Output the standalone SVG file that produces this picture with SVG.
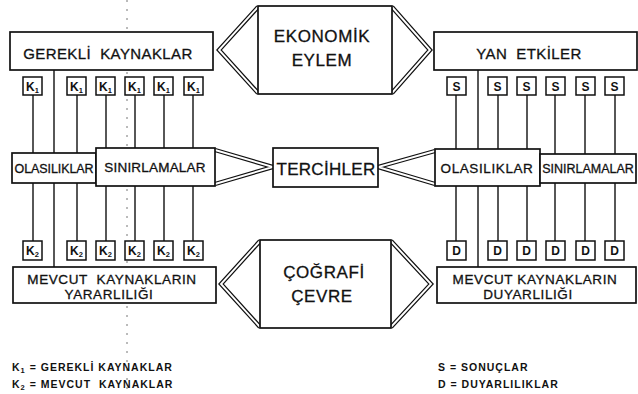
<svg xmlns="http://www.w3.org/2000/svg" width="638" height="394" viewBox="0 0 638 394">
<style>
.box{fill:#fff;stroke:#111;stroke-width:1.7}
.sm{fill:#fff;stroke:#111;stroke-width:1.5}
.ln{stroke:#111;stroke-width:1.4;fill:none}
.wo{fill:none;stroke:#111;stroke-width:4.4;stroke-linejoin:miter}
.wi{fill:none;stroke:#fff;stroke-width:1.9;stroke-linejoin:miter}
text{font-family:"Liberation Sans",Arial,sans-serif;fill:#111;stroke:#111;stroke-width:0.3}
.big{font-size:15px;letter-spacing:0.4px;text-anchor:middle}
.bot{font-size:13.5px;letter-spacing:0.6px;text-anchor:middle}
.ctr{font-size:17px;letter-spacing:0.6px;text-anchor:middle}
.mid{text-anchor:middle}
.k{font-size:12px;font-weight:bold;text-anchor:middle;stroke-width:0}
.sub{font-size:7.5px}
.leg{font-size:10.5px;font-weight:bold;letter-spacing:1px;stroke-width:0}
.art{stroke:#777;stroke-width:1;stroke-dasharray:2 7;fill:none}
</style>
<rect width="638" height="394" fill="#fff"/>
<line class="art" x1="127" y1="0" x2="127" y2="394"/>
<g id="connectors">
<path class="ln" d="M33,95V153M77,95V153M106,95V148M135,95V148M164,95V148M193,95V148M54,70V267"/>
<path class="ln" d="M33,183V241M77,183V241M106,186V241M135,186V241M164,186V241M193,186V241"/>
<path class="ln" d="M456,95V149M498,95V149M527,95V149M555,95V154M585,95V154M615,95V154M478,70V267"/>
<path class="ln" d="M456,186V241M498,186V241M527,186V241M555,183V241M585,183V241M615,183V241"/>
<g id="wings">
<path class="wo" d="M258,7L219,50L258,93"/><path class="wi" d="M258,7L219,50L258,93"/>
<path class="wo" d="M392,7L430,50L392,93"/><path class="wi" d="M392,7L430,50L392,93"/>
<path class="wo" d="M260,241L221,284L260,327"/><path class="wi" d="M260,241L221,284L260,327"/>
<path class="wo" d="M391,241L431,284L391,327"/><path class="wi" d="M391,241L431,284L391,327"/>
<path class="wo" d="M215,150L273,167L215,184"/><path class="wi" d="M215,150L273,167L215,184"/>
<path class="wo" d="M435,151L378,167L435,184"/><path class="wi" d="M435,151L378,167L435,184"/>
</g>
</g>
<g id="ekonomik-eylem">
<rect class="box" x="258" y="6" width="134" height="88"/>
<text class="ctr" x="322" y="42">EKONOMİK</text>
<text class="ctr" x="322" y="66">EYLEM</text>
</g>
<g id="cografi-cevre">
<rect class="box" x="260" y="240" width="131" height="88"/>
<text class="ctr" x="324" y="278">ÇOĞRAFİ</text>
<text class="ctr" x="322" y="302">ÇEVRE</text>
</g>
<g id="tercihler">
<rect class="box" x="273" y="148" width="105" height="39"/>
<text class="mid" x="326" y="174.5" style="font-size:17px;letter-spacing:0.3px">TERCİHLER</text>
</g>
<g id="gerekli-kaynaklar">
<rect class="box" x="10" y="32" width="203" height="38"/>
<text class="big" x="108" y="58.5">GEREKLİ&#160; KAYNAKLAR</text>
</g>
<g id="yan-etkiler">
<rect class="box" x="434" y="32" width="203" height="38"/>
<text class="big" x="529" y="58.5">YAN&#160; ETKİLER</text>
</g>
<g id="mevcut-yararliligi">
<rect class="box" x="13" y="267" width="203" height="36"/>
<text class="bot" x="112" y="284">MEVCUT&#160; KAYNAKLARIN</text>
<text class="bot" x="109" y="299">YARARLILIĞI</text>
</g>
<g id="mevcut-duyarliligi">
<rect class="box" x="437" y="267" width="199" height="36"/>
<text class="bot" x="535" y="284">MEVCUT KAYNAKLARIN</text>
<text class="bot" x="528" y="299">DUYARLILIĞI</text>
</g>
<g id="olasiliklar-left">
<rect class="box" x="12" y="153" width="84" height="30"/>
<text class="mid" x="54" y="172.5" style="font-size:12.5px;letter-spacing:-0.1px">OLASILIKLAR</text>
</g>
<g id="sinirlamalar-left">
<rect class="box" x="96" y="148" width="119" height="38"/>
<text class="mid" x="155" y="172" style="font-size:13.5px;letter-spacing:0.2px">SINIRLAMALAR</text>
</g>
<g id="olasiliklar-right">
<rect class="box" x="435" y="149" width="105" height="37"/>
<text class="mid" x="487" y="172.5" style="font-size:13.5px;letter-spacing:0.6px">OLASILIKLAR</text>
</g>
<g id="sinirlamalar-right">
<rect class="box" x="540" y="154" width="96" height="29"/>
<text class="mid" x="588" y="173" style="font-size:12.5px;letter-spacing:0px">SINIRLAMALAR</text>
</g>
<g id="k1-boxes">
<rect class="sm" x="23" y="77" width="19" height="18"/><text class="k" x="32.5" y="90.5">K<tspan class="sub" dy="2">1</tspan></text>
<rect class="sm" x="67" y="77" width="19" height="18"/><text class="k" x="76.5" y="90.5">K<tspan class="sub" dy="2">1</tspan></text>
<rect class="sm" x="96" y="77" width="19" height="18"/><text class="k" x="105.5" y="90.5">K<tspan class="sub" dy="2">1</tspan></text>
<rect class="sm" x="125" y="77" width="19" height="18"/><text class="k" x="134.5" y="90.5">K<tspan class="sub" dy="2">1</tspan></text>
<rect class="sm" x="154" y="77" width="19" height="18"/><text class="k" x="163.5" y="90.5">K<tspan class="sub" dy="2">1</tspan></text>
<rect class="sm" x="184" y="77" width="19" height="18"/><text class="k" x="193.5" y="90.5">K<tspan class="sub" dy="2">1</tspan></text>
</g>
<g id="k2-boxes">
<rect class="sm" x="23" y="241" width="19" height="19"/><text class="k" x="32.5" y="255">K<tspan class="sub" dy="2">2</tspan></text>
<rect class="sm" x="67" y="241" width="19" height="19"/><text class="k" x="76.5" y="255">K<tspan class="sub" dy="2">2</tspan></text>
<rect class="sm" x="96" y="241" width="19" height="19"/><text class="k" x="105.5" y="255">K<tspan class="sub" dy="2">2</tspan></text>
<rect class="sm" x="125" y="241" width="19" height="19"/><text class="k" x="134.5" y="255">K<tspan class="sub" dy="2">2</tspan></text>
<rect class="sm" x="154" y="241" width="19" height="19"/><text class="k" x="163.5" y="255">K<tspan class="sub" dy="2">2</tspan></text>
<rect class="sm" x="184" y="241" width="19" height="19"/><text class="k" x="193.5" y="255">K<tspan class="sub" dy="2">2</tspan></text>
</g>
<g id="s-boxes">
<rect class="sm" x="447" y="77" width="19" height="18"/><text class="k" x="456.5" y="90.5">S</text>
<rect class="sm" x="488" y="77" width="19" height="18"/><text class="k" x="497.5" y="90.5">S</text>
<rect class="sm" x="517" y="77" width="19" height="18"/><text class="k" x="526.5" y="90.5">S</text>
<rect class="sm" x="546" y="77" width="19" height="18"/><text class="k" x="555.5" y="90.5">S</text>
<rect class="sm" x="576" y="77" width="19" height="18"/><text class="k" x="585.5" y="90.5">S</text>
<rect class="sm" x="605" y="77" width="19" height="18"/><text class="k" x="614.5" y="90.5">S</text>
</g>
<g id="d-boxes">
<rect class="sm" x="447" y="241" width="19" height="19"/><text class="k" x="456.5" y="255">D</text>
<rect class="sm" x="488" y="241" width="19" height="19"/><text class="k" x="497.5" y="255">D</text>
<rect class="sm" x="517" y="241" width="19" height="19"/><text class="k" x="526.5" y="255">D</text>
<rect class="sm" x="546" y="241" width="19" height="19"/><text class="k" x="555.5" y="255">D</text>
<rect class="sm" x="576" y="241" width="19" height="19"/><text class="k" x="585.5" y="255">D</text>
<rect class="sm" x="605" y="241" width="19" height="19"/><text class="k" x="614.5" y="255">D</text>
</g>
<g id="legend">
<text class="leg" x="12" y="371">K<tspan class="sub" dy="2">1</tspan><tspan dy="-2"> = GEREKLİ KAYNAKLAR</tspan></text>
<text class="leg" x="12" y="388">K<tspan class="sub" dy="2">2</tspan><tspan dy="-2"> = MEVCUT&#160; KAYNAKLAR</tspan></text>
<text class="leg" x="438" y="371">S = SONUÇLAR</text>
<text class="leg" x="438" y="388">D = DUYARLILIKLAR</text>
</g>
</svg>
